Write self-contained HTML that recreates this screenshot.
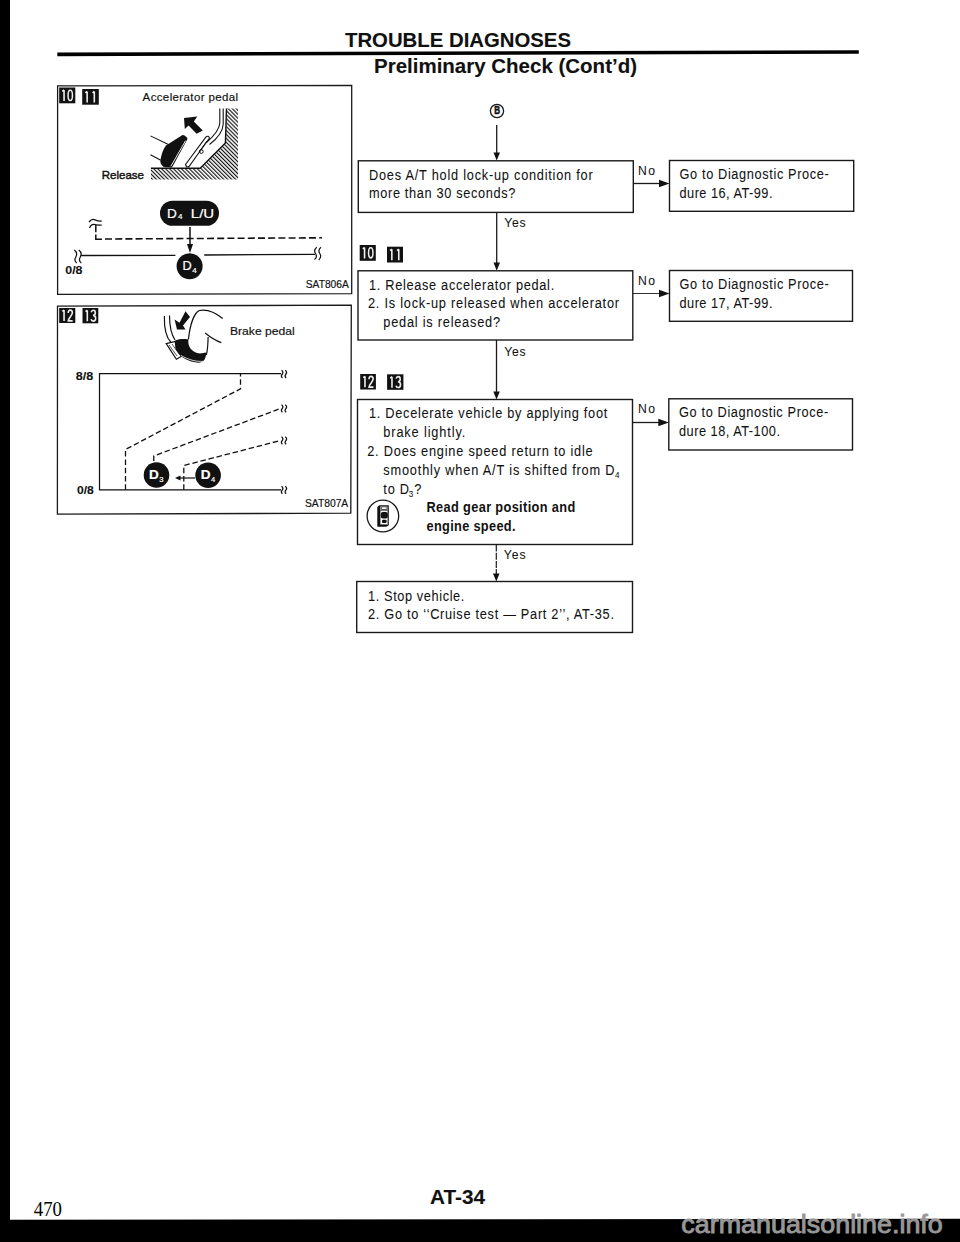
<!DOCTYPE html>
<html><head><meta charset="utf-8">
<style>
html,body{margin:0;padding:0;background:#fff;}
body{width:960px;height:1242px;overflow:hidden;position:relative;}
svg{position:absolute;left:0;top:0;}
text{font-family:"Liberation Sans",sans-serif;fill:#111;stroke:#111;stroke-width:0.18px;}
.b{font-weight:bold;stroke-width:0.1px;}
.ser{font-family:"Liberation Serif",serif;}
.ft{font-size:14.2px;}
.ft text{stroke-width:0.06px;}
.ft text.b{stroke-width:0px;}
.ln{stroke:#1a1a1a;fill:none;}
</style></head>
<body>
<svg width="960" height="1242" viewBox="0 0 960 1242">
<!-- scan borders -->
<rect x="0" y="0" width="10" height="1242" fill="#000"/>
<polygon points="0,1219.7 960,1218.8 960,1242 0,1242" fill="#000"/>
<text x="681.3" y="1233.3" font-size="25.5" textLength="261.5" lengthAdjust="spacingAndGlyphs" style="fill:#979797;stroke:#979797;stroke-width:0.9px">carmanualsonline.info</text>

<!-- heading -->
<text x="345" y="46.7" class="b" font-size="19.5" textLength="226" lengthAdjust="spacingAndGlyphs">TROUBLE DIAGNOSES</text>
<polygon points="57.3,52.5 858.8,50.2 858.8,53.8 57.3,56.2" fill="#000"/>
<text x="374" y="73" class="b" font-size="19.5" textLength="263" lengthAdjust="spacingAndGlyphs">Preliminary Check (Cont’d)</text>

<!-- footer -->
<text x="430" y="1203.5" class="b" font-size="19.5" textLength="55" lengthAdjust="spacingAndGlyphs">AT-34</text>
<text x="33.8" y="1215.6" class="ser" font-size="20.5" textLength="28.2" lengthAdjust="spacingAndGlyphs" style="fill:#000;stroke:none">470</text>

<!-- LEFT BOX 1 -->
<path d="M57.6,85.9 L351.7,85.4 L351.7,293.7 L57.6,294.3 Z" class="ln" stroke-width="1.3"/>
<text x="142.6" y="101.4" font-size="11.5" textLength="95.5" lengthAdjust="spacing">Accelerator pedal</text>
<text x="101.7" y="179.2" font-size="11.8" textLength="42.3" lengthAdjust="spacingAndGlyphs" style="stroke-width:0.45px">Release</text>
<text x="305.8" y="287.5" font-size="10.5" textLength="43" lengthAdjust="spacingAndGlyphs">SAT806A</text>
<text x="65.3" y="274" font-size="11.5" class="b" textLength="17.2" lengthAdjust="spacingAndGlyphs">0/8</text>
<!-- pedal drawing -->
<defs>
<pattern id="hatch" width="2.8" height="2.8" patternUnits="userSpaceOnUse" patternTransform="rotate(-45)">
<rect width="1.15" height="2.8" fill="#111"/>
</pattern>
</defs>
<path d="M150.9,168.2 L200.2,168.2 L225.4,143 L227,108.6 L238,108.6 L238,179.6 L150.9,179.6 Z" fill="url(#hatch)"/>
<path d="M150.9,168.2 L200.2,168.2 L225.4,143 L226.5,108.6" fill="none" stroke="#111" stroke-width="1.4"/>
<!-- pedal arm -->
<path d="M219.8,108.6 L219.8,123 C219.6,129 215,135 206.5,142.5 M223.2,108.6 L223.2,124 C223,131 218,138 209.5,144.5" fill="none" stroke="#111" stroke-width="1.1"/>
<path d="M185.5,164.5 L206,137 Q208.5,135 209.5,138 L189,166.5 Q186.5,168 185.5,164.5 Z" fill="#fff" stroke="#111" stroke-width="1.1"/>
<circle cx="201.3" cy="151.5" r="1.9" fill="none" stroke="#111" stroke-width="1"/>
<path d="M199,152 L207,141" stroke="#111" stroke-width="1"/>
<!-- shoe -->
<path d="M166,145.5 L182.5,135 Q186,135.3 187.5,139 L172,167.5 L165,167.2 Q160.3,165.5 160.3,161 C161.5,154 163,149 166,145.5 Z" fill="#111"/>
<path d="M185.6,140.6 L170.8,166.4" stroke="#fff" stroke-width="0.9"/>
<path d="M150.5,135.9 L168.4,144.5 M150.5,154.7 L160.8,160.2" stroke="#111" stroke-width="1.05"/>
<!-- black arrow -->
<path d="M184,118 L197.3,116.4 L193.8,121.5 L202.8,130.5 L196.6,133.8 L188.6,125.5 L184.8,128.9 Z" fill="#111"/>

<!-- graph box1 -->
<rect x="160" y="200.7" width="59" height="25.1" rx="12.5" fill="#111"/>
<text x="167" y="217.7" font-size="13" textLength="9.8" lengthAdjust="spacingAndGlyphs" style="fill:#fff;stroke:#fff;stroke-width:0.2px">D</text>
<text x="178" y="219.2" font-size="8" style="fill:#fff;stroke:#fff;stroke-width:0.2px">4</text>
<text x="190.8" y="217.7" font-size="13" textLength="23.4" lengthAdjust="spacingAndGlyphs" style="fill:#fff;stroke:#fff;stroke-width:0.2px">L/U</text>
<line x1="190" y1="227" x2="190" y2="245" stroke="#111" stroke-width="1.5"/>
<polygon points="187,244 193,244 190,253" fill="#111"/>
<circle cx="189.6" cy="266.3" r="13" fill="#111"/>
<text x="182.5" y="270" font-size="12.5" textLength="9.2" lengthAdjust="spacingAndGlyphs" style="fill:#fff;stroke:#fff;stroke-width:0.2px">D</text>
<text x="192.3" y="272.8" font-size="8" style="fill:#fff;stroke:#fff;stroke-width:0.2px">4</text>
<line x1="105" y1="239" x2="322" y2="237.8" stroke="#111" stroke-width="1.6" stroke-dasharray="7 3.2"/>
<path d="M95.8,225 L95.8,232.3 M95.8,234.5 L95.8,239.3 L102,239.3" fill="none" stroke="#111" stroke-width="1.5"/>
<path d="M89,222 C91,219.5 93,219 95,219.8 C97,220.6 99.5,221.5 101.7,220.8 M89.6,228 C90.5,225 92.5,224 95.5,224.6 C98,225 100,225.5 101.7,225" fill="none" stroke="#111" stroke-width="1.3"/>
<line x1="80.8" y1="255.5" x2="175.4" y2="255.3" stroke="#111" stroke-width="1.3"/>
<line x1="204.2" y1="255" x2="315" y2="254.3" stroke="#111" stroke-width="1.3"/>
<path d="M74.3,250 C76.8,251.8 77,255 75.6,257.5 C74.5,259.5 74.8,261.5 76.8,263 M78.8,250 C81.3,251.8 81.5,255 80.1,257.5 C79,259.5 79.3,261.5 81.3,263" fill="none" stroke="#111" stroke-width="1.2"/>
<path d="M316.8,247.3 C314.5,249 314.2,251.5 315.5,253.5 C316.8,255.5 316.5,258 314.5,259.5 M321,247.3 C318.8,249 318.5,251.5 319.8,253.5 C321,255.5 320.8,258 318.8,260" fill="none" stroke="#111" stroke-width="1.2"/>

<!-- LEFT BOX 2 -->
<text x="230" y="335" font-size="11.5" textLength="64.7" lengthAdjust="spacingAndGlyphs">Brake pedal</text>
<text x="305" y="507.4" font-size="10.3" textLength="43.2" lengthAdjust="spacingAndGlyphs">SAT807A</text>
<text x="75.8" y="380" font-size="11" class="b" textLength="17.5" lengthAdjust="spacingAndGlyphs">8/8</text>
<text x="77" y="493.8" font-size="11" class="b" textLength="16.8" lengthAdjust="spacingAndGlyphs">0/8</text>
<!-- brake pedal drawing -->
<path d="M164.4,315.9 C164,328 166,337 171,342.5 M169.5,315.6 C169.5,326 171,334 175,340" fill="none" stroke="#111" stroke-width="1.2"/>
<path d="M166.2,343.6 L175.3,341.5 L181.9,356 L176.4,359.3 Z" fill="#fff" stroke="#111" stroke-width="1.2"/>
<path d="M169,345 L177,356 M172,344 L179.5,354.5" stroke="#111" stroke-width="0.7"/>
<path d="M174.6,341 C178,339 183,338.5 188.4,339.5 C187.5,347 192,352.5 200,353.5 L206.2,352.5 C206,358 204.5,362 199,362.8 C192,362.5 185,359.5 180,355.5 L175.5,349 Z" fill="#111"/>
<path d="M181,355.5 C188,359.5 196,362 203.5,361.3" fill="none" stroke="#fff" stroke-width="0.8"/>
<path d="M188.4,339.5 C190,325 194,313 199.4,310.5 C207,309 216,313 222.7,318.5" fill="none" stroke="#111" stroke-width="1.2"/>
<path d="M205.2,333 C210,337 215,340.5 221.3,342.6 M208.1,337 C208,345 207.5,350 206.4,355" fill="none" stroke="#111" stroke-width="1.2"/>
<path d="M177,329.5 L174.6,319.5 L179.5,322.8 L185.5,311.2 L190,317 L183,325.5 L185.5,329.5 Z" fill="#111"/>
<!-- graph box2 -->
<path d="M281,373.6 L99.5,373.6 L99.5,489.8 L281,489.8" fill="none" stroke="#111" stroke-width="1.25"/>
<path d="M125.5,489.8 L125.5,449.5 L240.5,388.8 L240.5,374" fill="none" stroke="#111" stroke-width="1.3" stroke-dasharray="5.5 2.8"/>
<path d="M153.8,461 L153.8,456 L280.5,408.5" fill="none" stroke="#111" stroke-width="1.3" stroke-dasharray="5.5 2.8"/>
<path d="M183.8,489.8 L183.8,465.5 L280.5,440.5" fill="none" stroke="#111" stroke-width="1.3" stroke-dasharray="5.5 2.8"/>
<g fill="none" stroke="#111" stroke-width="1.3">
<path d="M281.5,370.29999999999995 C283.3,371.5 283.3,373.0 282,374.5 C280.8,376.0 281.5,377.29999999999995 282.5,377.79999999999995 M285.2,370.29999999999995 C287,371.5 287,373.0 285.7,374.5 C284.5,376.0 285.2,377.29999999999995 286.2,377.79999999999995"/>
<path d="M281.5,404.7 C283.3,405.90000000000003 283.3,407.40000000000003 282,408.90000000000003 C280.8,410.40000000000003 281.5,411.7 282.5,412.2 M285.2,404.7 C287,405.90000000000003 287,407.40000000000003 285.7,408.90000000000003 C284.5,410.40000000000003 285.2,411.7 286.2,412.2"/>
<path d="M281.5,436.7 C283.3,437.90000000000003 283.3,439.40000000000003 282,440.90000000000003 C280.8,442.40000000000003 281.5,443.7 282.5,444.2 M285.2,436.7 C287,437.90000000000003 287,439.40000000000003 285.7,440.90000000000003 C284.5,442.40000000000003 285.2,443.7 286.2,444.2"/>
<path d="M281.5,486.2 C283.3,487.4 283.3,488.9 282,490.4 C280.8,491.9 281.5,493.2 282.5,493.7 M285.2,486.2 C287,487.4 287,488.9 285.7,490.4 C284.5,491.9 285.2,493.2 286.2,493.7"/>
</g>
<circle cx="156.5" cy="475" r="12.8" fill="#111"/>
<text x="149" y="478.8" font-size="13.6" class="b" textLength="9.8" lengthAdjust="spacingAndGlyphs" style="fill:#fff;stroke:#fff;stroke-width:0.2px">D</text>
<text x="159.2" y="481.7" font-size="7.6" style="fill:#fff;stroke:#fff;stroke-width:0.2px">3</text>
<circle cx="208.1" cy="475.3" r="12.8" fill="#111"/>
<text x="200.8" y="479.2" font-size="13.6" class="b" textLength="9.8" lengthAdjust="spacingAndGlyphs" style="fill:#fff;stroke:#fff;stroke-width:0.2px">D</text>
<text x="211" y="482" font-size="7.6" style="fill:#fff;stroke:#fff;stroke-width:0.2px">4</text>
<line x1="195" y1="478" x2="178" y2="478" stroke="#111" stroke-width="1.2"/>
<polygon points="175,478 180.5,475.5 180.5,480.5" fill="#111"/>

<path d="M57.5,306.1 L351.3,305.2 L350.8,513.2 L57.4,514.1 Z" class="ln" stroke-width="1.3"/>

<!-- FLOW BOXES -->
<rect x="358.3" y="160.8" width="275" height="51.6" class="ln" stroke-width="1.4"/>
<rect x="669.5" y="160.5" width="184.2" height="50.8" class="ln" stroke-width="1.4"/>
<rect x="358" y="270.8" width="274.8" height="69.2" class="ln" stroke-width="1.4"/>
<rect x="669.5" y="270.5" width="183" height="50.8" class="ln" stroke-width="1.4"/>
<rect x="357.5" y="399.5" width="275" height="145" class="ln" stroke-width="1.4"/>
<rect x="668.8" y="398.8" width="183.7" height="51.2" class="ln" stroke-width="1.4"/>
<rect x="356.7" y="581.5" width="275.8" height="51" class="ln" stroke-width="1.4"/>

<!-- circle B + arrows -->
<circle cx="497" cy="111" r="6.6" class="ln" stroke-width="1.3"/>
<text x="494.2" y="114.3" font-size="11.5" class="b" textLength="5.8" lengthAdjust="spacingAndGlyphs" style="stroke-width:0.6px">B</text>
<line x1="496.7" y1="125" x2="496.7" y2="153" class="ln" stroke-width="1.3"/>
<polygon points="493.5,152.5 500,152.5 496.7,160.5" fill="#111"/>
<line x1="496.7" y1="212.4" x2="496.7" y2="263" class="ln" stroke-width="1.3"/>
<polygon points="493.5,262.5 500,262.5 496.7,270.8" fill="#111"/>
<line x1="496.5" y1="340" x2="496.5" y2="392" class="ln" stroke-width="1.3"/>
<polygon points="493.3,391.5 499.8,391.5 496.5,399.5" fill="#111"/>
<line x1="496.3" y1="544.5" x2="496.3" y2="574" class="ln" stroke-width="1.2" stroke-dasharray="7 1.2"/>
<polygon points="493,573.5 499.5,573.5 496.3,581.5" fill="#111"/>
<!-- No arrows -->
<line x1="633.3" y1="183.5" x2="662" y2="183.5" class="ln" stroke-width="1.3"/>
<polygon points="659,179.8 669.5,183.5 659,187.2" fill="#111"/>
<line x1="632.8" y1="293.5" x2="662" y2="293.5" class="ln" stroke-width="0.9"/>
<polygon points="659,289.8 669.5,293.5 659,297.2" fill="#111"/>
<line x1="632.5" y1="422.5" x2="661" y2="422.5" class="ln" stroke-width="1.3"/>
<polygon points="658.3,418.8 668.8,422.5 658.3,426.2" fill="#111"/>

<g class="ft">
<text transform="scale(0.9,1)" x="708.89" y="175.00" textLength="18.89" lengthAdjust="spacing" font-size="13.5">No</text>
<text transform="scale(0.9,1)" x="708.89" y="285.00" textLength="18.89" lengthAdjust="spacing" font-size="13.5">No</text>
<text transform="scale(0.9,1)" x="708.89" y="413.00" textLength="18.89" lengthAdjust="spacing" font-size="13.5">No</text>
<text transform="scale(0.9,1)" x="560.33" y="227.00" textLength="23.67" lengthAdjust="spacing" font-size="13.5">Yes</text>
<text transform="scale(0.9,1)" x="560.33" y="355.70" textLength="23.67" lengthAdjust="spacing" font-size="13.5">Yes</text>
<text transform="scale(0.9,1)" x="559.67" y="559.00" textLength="24.33" lengthAdjust="spacing" font-size="13.5">Yes</text>

<text transform="scale(0.9,1)" x="410.00" y="179.80" textLength="248.56" lengthAdjust="spacing">Does A/T hold lock-up condition for</text>
<text transform="scale(0.9,1)" x="410.00" y="198.50" textLength="162.67" lengthAdjust="spacing">more than 30 seconds?</text>

<text transform="scale(0.9,1)" x="755.00" y="179.50" textLength="165.89" lengthAdjust="spacing">Go to Diagnostic Proce-</text>
<text transform="scale(0.9,1)" x="755.00" y="198.00" textLength="103.33" lengthAdjust="spacing">dure 16, AT-99.</text>
<text transform="scale(0.9,1)" x="755.00" y="289.50" textLength="165.89" lengthAdjust="spacing">Go to Diagnostic Proce-</text>
<text transform="scale(0.9,1)" x="755.00" y="308.00" textLength="103.33" lengthAdjust="spacing">dure 17, AT-99.</text>
<text transform="scale(0.9,1)" x="754.44" y="417.50" textLength="165.89" lengthAdjust="spacing">Go to Diagnostic Proce-</text>
<text transform="scale(0.9,1)" x="754.44" y="436.30" textLength="112.22" lengthAdjust="spacing">dure 18, AT-100.</text>

<text transform="scale(0.9,1)" x="410.00" y="289.80" textLength="205.78" lengthAdjust="spacing">1. Release accelerator pedal.</text>
<text transform="scale(0.9,1)" x="408.89" y="308.20" textLength="278.89" lengthAdjust="spacing">2. Is lock-up released when accelerator</text>
<text transform="scale(0.9,1)" x="425.89" y="326.80" textLength="129.67" lengthAdjust="spacing">pedal is released?</text>

<text transform="scale(0.9,1)" x="410.00" y="418.00" textLength="264.78" lengthAdjust="spacing">1. Decelerate vehicle by applying foot</text>
<text transform="scale(0.9,1)" x="425.89" y="437.30" textLength="91.11" lengthAdjust="spacing">brake lightly.</text>
<text transform="scale(0.9,1)" x="408.00" y="456.00" textLength="250.56" lengthAdjust="spacing">2. Does engine speed return to idle</text>
<text transform="scale(0.9,1)" x="425.89" y="475.00" textLength="257.00" lengthAdjust="spacing">smoothly when A/T is shifted from D</text>
<text transform="scale(0.9,1)" x="683.33" y="478.50" font-size="9">4</text>
<text transform="scale(0.9,1)" x="425.89" y="494.00" textLength="28.67" lengthAdjust="spacing">to D</text>
<text transform="scale(0.9,1)" x="454.22" y="497.50" font-size="9">3</text>
<text transform="scale(0.9,1)" x="460.22" y="494.00">?</text>
<text transform="scale(0.9,1)" x="473.89" y="512.30" class="b" textLength="165.22" lengthAdjust="spacing">Read gear position and</text>
<text transform="scale(0.9,1)" x="473.89" y="530.70" class="b" textLength="98.89" lengthAdjust="spacing">engine speed.</text>

<text transform="scale(0.9,1)" x="408.89" y="600.70" textLength="107.11" lengthAdjust="spacing">1. Stop vehicle.</text>
<text transform="scale(0.9,1)" x="408.89" y="619.30" textLength="273.33" lengthAdjust="spacing">2. Go to ‘‘Cruise test — Part 2’’, AT-35.</text>
</g>

<!-- CONSULT icon -->
<circle cx="382.9" cy="516" r="15.8" class="ln" stroke-width="1.3"/>
<path d="M377.3,507 L379.3,505.2 L388.8,505.2 L388.8,525.3 L386.3,526.8 L377.3,526.8 Z" fill="#111"/>
<rect x="380.4" y="506.3" width="7.2" height="18.7" fill="#fff"/>
<rect x="381.2" y="506.9" width="5.8" height="2.6" fill="#fff" stroke="#111" stroke-width="0.7"/>
<line x1="380.4" y1="510.6" x2="387.6" y2="510.6" stroke="#111" stroke-width="0.6"/>
<rect x="380.8" y="512" width="7" height="6.5" rx="2" fill="#111"/>
<rect x="382" y="519.8" width="4.6" height="3.3" rx="1" fill="#111"/>
<line x1="380.4" y1="524.5" x2="387.6" y2="524.5" stroke="#111" stroke-width="0.6"/>

<!-- badges -->
<rect x="359.7" y="245" width="16.1" height="15.8" fill="#111"/><path transform="translate(361.24,247.30) scale(0.974)" d="M3.4,0.2 L3.4,11.5 M1.6,1.6 L3.4,0.2" fill="none" stroke="#eee" stroke-width="1.64"/><ellipse cx="370.75" cy="252.90" rx="2.19" ry="5.06" fill="none" stroke="#eee" stroke-width="1.5"/>
<rect x="387" y="246.7" width="16.0" height="15.8" fill="#111"/><path transform="translate(388.52,249.00) scale(0.974)" d="M3.4,0.2 L3.4,11.5 M1.6,1.6 L3.4,0.2" fill="none" stroke="#eee" stroke-width="1.64"/><path transform="translate(395.46,249.00) scale(0.974)" d="M3.4,0.2 L3.4,11.5 M1.6,1.6 L3.4,0.2" fill="none" stroke="#eee" stroke-width="1.64"/>
<rect x="360.2" y="374" width="15.7" height="15.5" fill="#111"/><path transform="translate(361.67,376.15) scale(0.974)" d="M3.4,0.2 L3.4,11.5 M1.6,1.6 L3.4,0.2" fill="none" stroke="#eee" stroke-width="1.64"/><path transform="translate(368.49,376.15) scale(0.974)" d="M0.5,3.2 C0.5,1 1.5,0.2 2.6,0.2 C3.9,0.2 4.8,1.3 4.8,3 C4.8,5.6 0.5,8.4 0.5,11.3 L5.1,11.3" fill="none" stroke="#eee" stroke-width="1.64"/>
<rect x="387.1" y="374.3" width="16.3" height="15.5" fill="#111"/><path transform="translate(388.67,376.45) scale(0.974)" d="M3.4,0.2 L3.4,11.5 M1.6,1.6 L3.4,0.2" fill="none" stroke="#eee" stroke-width="1.64"/><path transform="translate(395.73,376.45) scale(0.974)" d="M0.4,2.2 C0.8,0.7 1.6,0.2 2.6,0.2 C3.9,0.2 4.6,1.4 4.6,2.9 C4.6,4.6 3.6,5.5 2.2,5.5 C3.9,5.5 4.9,6.6 4.9,8.4 C4.9,10.3 3.8,11.4 2.5,11.4 C1.3,11.4 0.5,10.6 0.3,9.4" fill="none" stroke="#eee" stroke-width="1.64"/>
<rect x="59.2" y="87.5" width="16.1" height="15.8" fill="#111"/><path transform="translate(60.74,89.80) scale(0.974)" d="M3.4,0.2 L3.4,11.5 M1.6,1.6 L3.4,0.2" fill="none" stroke="#eee" stroke-width="1.64"/><ellipse cx="70.25" cy="95.40" rx="2.19" ry="5.06" fill="none" stroke="#eee" stroke-width="1.5"/>
<rect x="82.2" y="89" width="16.6" height="15.7" fill="#111"/><path transform="translate(83.82,91.25) scale(0.974)" d="M3.4,0.2 L3.4,11.5 M1.6,1.6 L3.4,0.2" fill="none" stroke="#eee" stroke-width="1.64"/><path transform="translate(91.00,91.25) scale(0.974)" d="M3.4,0.2 L3.4,11.5 M1.6,1.6 L3.4,0.2" fill="none" stroke="#eee" stroke-width="1.64"/>
<rect x="59.2" y="308" width="16.1" height="15.0" fill="#111"/><path transform="translate(60.74,309.90) scale(0.974)" d="M3.4,0.2 L3.4,11.5 M1.6,1.6 L3.4,0.2" fill="none" stroke="#eee" stroke-width="1.64"/><path transform="translate(67.72,309.90) scale(0.974)" d="M0.5,3.2 C0.5,1 1.5,0.2 2.6,0.2 C3.9,0.2 4.8,1.3 4.8,3 C4.8,5.6 0.5,8.4 0.5,11.3 L5.1,11.3" fill="none" stroke="#eee" stroke-width="1.64"/>
<rect x="82.5" y="308" width="15.8" height="15.3" fill="#111"/><path transform="translate(83.99,310.05) scale(0.974)" d="M3.4,0.2 L3.4,11.5 M1.6,1.6 L3.4,0.2" fill="none" stroke="#eee" stroke-width="1.64"/><path transform="translate(90.85,310.05) scale(0.974)" d="M0.4,2.2 C0.8,0.7 1.6,0.2 2.6,0.2 C3.9,0.2 4.6,1.4 4.6,2.9 C4.6,4.6 3.6,5.5 2.2,5.5 C3.9,5.5 4.9,6.6 4.9,8.4 C4.9,10.3 3.8,11.4 2.5,11.4 C1.3,11.4 0.5,10.6 0.3,9.4" fill="none" stroke="#eee" stroke-width="1.64"/>
</svg>
</body></html>
